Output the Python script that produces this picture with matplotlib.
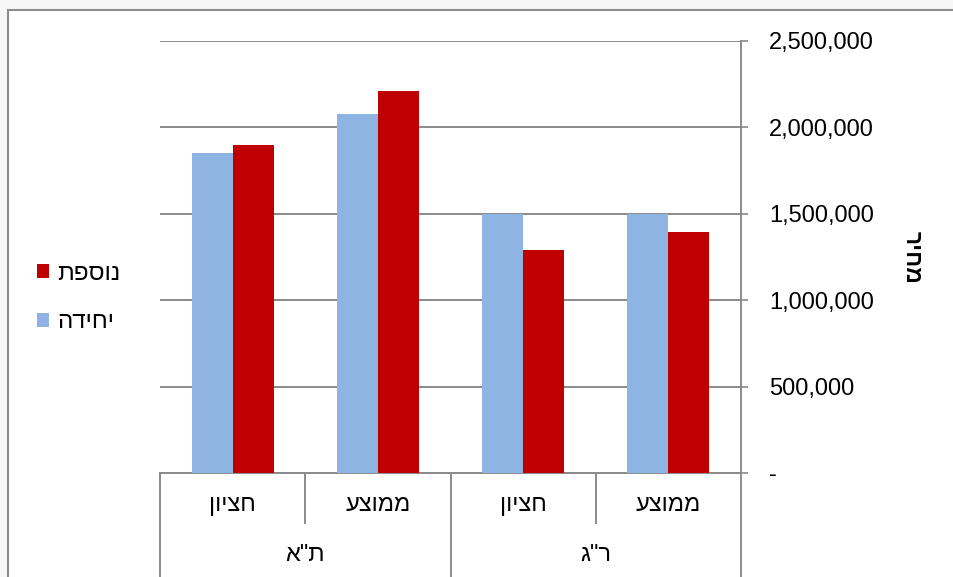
import matplotlib
matplotlib.use("Agg")
import matplotlib.pyplot as plt
import matplotlib.transforms as mtransforms
from matplotlib.patches import Patch, Rectangle
from matplotlib.ticker import FuncFormatter
import numpy as np

plt.rcParams["font.family"] = ["Liberation Sans", "DejaVu Sans"]

# data (left to right on the category axis)
cities = ['ת"א', 'ר"ג']
stats = ["חציון", "ממוצע"]
series_names = ["נוספת", "יחידה"]
yechida = [1850000, 2080000, 1500000, 1500000]
nosefet = [1900000, 2210000, 1290000, 1395000]
y_label = "מחיר"
y_ticks = [0, 500000, 1000000, 1500000, 2000000, 2500000]

BLUE = "#8EB4E3"
RED = "#C00000"
GRID = "#8A8A8A"


def heb(s):
    # matplotlib lays glyphs out left to right, so flip Hebrew for display
    return s[::-1]


fig = plt.figure(figsize=(9.54, 5.77), dpi=100, facecolor="#f7f7f7")
fig.patches.append(Rectangle((8 / 954, -0.01), 1.0, 1 - 10 / 577 + 0.01,
                             transform=fig.transFigure, facecolor="white",
                             edgecolor="#8c8c8c", lw=1.5, zorder=-5))

ax = fig.add_axes([160 / 954, 1 - 473 / 577, (741 - 160) / 954, (473 - 41) / 577])
ax.set_facecolor("none")

x = np.arange(len(yechida))
w = 0.283
ax.bar(x - w / 2, yechida, w, color=BLUE, zorder=3)
ax.bar(x + w / 2, nosefet, w, color=RED, zorder=3)

ax.set_xlim(-0.5, 3.5)
ax.set_ylim(0, 2500000)
ax.set_yticks(y_ticks)
ax.yaxis.tick_right()
ax.yaxis.set_major_formatter(FuncFormatter(lambda v, p: "-" if v == 0 else f"{int(v):,}"))
ax.tick_params(axis="y", length=5, width=1.2, color=GRID, pad=15, labelsize=17)
ax.tick_params(axis="x", bottom=False, labelbottom=False)
ax.grid(axis="y", color=GRID, lw=1.4, zorder=1)
ax.set_axisbelow(True)

for side in ["top", "left"]:
    ax.spines[side].set_visible(False)
for side in ["right", "bottom"]:
    ax.spines[side].set_color(GRID)
    ax.spines[side].set_linewidth(1.4)

ax.yaxis.set_label_position("right")
ax.set_ylabel(heb(y_label), rotation=-90, fontsize=16.5, fontweight="bold", labelpad=36)

# two-level category axis under the plot
tr = mtransforms.blended_transform_factory(ax.transData, ax.transAxes)
for b in [-0.5, 1.5, 3.5]:
    ax.plot([b, b], [0, -0.245], color=GRID, lw=1.4, transform=tr, clip_on=False)
for b in [0.5, 2.5]:
    ax.plot([b, b], [0, -0.116], color=GRID, lw=1.4, transform=tr, clip_on=False)

for i in range(len(yechida)):
    ax.text(x[i], -0.074, heb(stats[i % 2]), transform=tr, ha="center", va="center",
            fontsize=17)
for j, c in enumerate(cities):
    ax.text(0.5 + 2 * j, -0.19, heb(c), transform=tr, ha="center", va="center",
            fontsize=17)

handles = [Patch(facecolor=RED), Patch(facecolor=BLUE)]
fig.legend(handles, [heb(s) for s in series_names], loc="center left",
           bbox_to_anchor=(37 / 954, 1 - 298 / 577), frameon=False, fontsize=17.5,
           handlelength=0.5, handleheight=0.5, handletextpad=0.35,
           labelspacing=1.1, borderpad=0, borderaxespad=0)

fig.savefig("out.png", dpi=100, facecolor=fig.get_facecolor())
